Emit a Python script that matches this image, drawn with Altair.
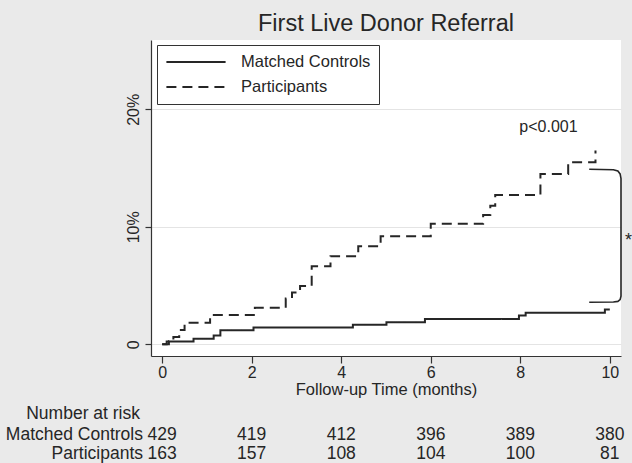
import altair as alt
import pandas as pd

FONT = "Liberation Sans"
INK = "#262626"

# Cumulative incidence (%) of a first live donor referral, step points by month
mc_time = [0, 0.1, 0.7, 1.15, 1.3, 2.04, 4.26, 5.01, 5.87, 7.97, 8.12, 9.89, 10.0]
mc_pct = [0, 0.23, 0.47, 0.75, 1.2, 1.42, 1.65, 1.87, 2.16, 2.44, 2.68, 2.95, 2.95]

pa_time = [0, 0.15, 0.25, 0.38, 0.5, 1.07, 2.07, 2.76, 2.9, 3.08, 3.34, 3.76,
           4.38, 4.88, 6.0, 7.17, 7.33, 7.44, 8.45, 9.07, 9.68]
pa_pct = [0, 0.25, 0.62, 1.22, 1.84, 2.5, 3.1, 3.9, 4.4, 4.95, 6.65, 7.5,
          8.35, 9.2, 10.25, 11.0, 11.8, 12.7, 14.5, 15.5, 16.5]

groups = ["Matched Controls", "Participants"]

# Number at risk
risk_months = [0, 2, 4, 6, 8, 10]
risk_controls = [429, 419, 412, 396, 389, 380]
risk_participants = [163, 157, 108, 104, 100, 81]

# Bracket joining the two curve ends
bracket_time = [9.54, 10.08, 10.18, 10.23, 10.25, 10.25, 10.23, 10.18, 10.08, 9.54]
bracket_pct = [14.9, 14.85, 14.75, 14.5, 14.1, 4.1, 3.8, 3.65, 3.6, 3.58]

curves = pd.concat([
    pd.DataFrame({"time": mc_time, "pct": mc_pct, "group": groups[0]}),
    pd.DataFrame({"time": pa_time, "pct": pa_pct, "group": groups[1]}),
], ignore_index=True)

bracket = pd.DataFrame({"time": bracket_time, "pct": bracket_pct,
                        "order": list(range(len(bracket_time)))})

risk = pd.DataFrame({"time": risk_months,
                     "controls": risk_controls,
                     "participants": risk_participants})

x_scale = alt.Scale(domain=[-0.25, 10.25], nice=False, zero=False)
y_scale = alt.Scale(domain=[-1.0, 25.9], nice=False, zero=False)

x_axis = alt.Axis(
    values=[0, 2, 4, 6, 8, 10], title="Follow-up Time (months)", grid=False,
    tickSize=7, labelPadding=1.5, labelFontSize=16, titleFontSize=16.5,
    titleFontWeight="normal", titleBaseline="alphabetic", titleY=38.5,
)
y_axis = alt.Axis(
    values=[0, 10, 20], title=None, grid=True, gridColor="#E4E4E4",
    labelExpr="datum.value == 0 ? '0' : datum.value + '%'",
    labelAngle=270, labelAlign="center", labelBaseline="alphabetic",
    tickSize=6, labelPadding=7, labelFontSize=16,
)

# Legend key: a flat stroke drawn as a custom symbol path
key_path = "M-3.7,0H3.7"

lines = alt.Chart(curves).mark_line(
    interpolate="step-after", strokeWidth=2, color=INK
).encode(
    x=alt.X("time:Q", scale=x_scale, axis=x_axis),
    y=alt.Y("pct:Q", scale=y_scale, axis=y_axis),
    strokeDash=alt.StrokeDash(
        "group:N",
        scale=alt.Scale(domain=groups, range=[[1, 0], [10, 6]]),
        legend=alt.Legend(
            title=None, orient="none", legendX=6, legendY=5,
            direction="vertical", symbolType=key_path, symbolSize=256,
            symbolStrokeWidth=2, symbolStrokeColor=INK,
            symbolFillColor="transparent", symbolOffset=22,
            labelFontSize=16.5, labelFont=FONT, labelColor=INK,
            labelOffset=36, rowPadding=7, padding=8,
            strokeColor="#333333", fillColor="white",
        ),
    ),
    detail="group:N",
)

bracket_line = alt.Chart(bracket).mark_line(strokeWidth=1.6, color=INK).encode(
    x=alt.X("time:Q", scale=x_scale),
    y=alt.Y("pct:Q", scale=y_scale),
    order="order:Q",
)

pval = alt.Chart(pd.DataFrame({"time": [8.63], "pct": [18.1], "t": ["p<0.001"]})).mark_text(
    fontSize=16, font=FONT, color=INK, align="center", baseline="alphabetic"
).encode(x=alt.X("time:Q", scale=x_scale), y=alt.Y("pct:Q", scale=y_scale), text="t:N")

star = alt.Chart(pd.DataFrame({"time": [10.34], "pct": [8.4], "t": ["*"]})).mark_text(
    fontSize=18, font=FONT, color=INK, align="left", baseline="alphabetic"
).encode(x=alt.X("time:Q", scale=x_scale), y=alt.Y("pct:Q", scale=y_scale), text="t:N")

# Number-at-risk table below the axis
row_text = dict(fontSize=17.5, font=FONT, color=INK, baseline="alphabetic")
header = alt.Chart(pd.DataFrame({"t": ["Number at risk"]})).mark_text(
    align="right", **row_text
).encode(x=alt.value(-11), y=alt.value(379), text="t:N")
label_mc = alt.Chart(pd.DataFrame({"t": ["Matched Controls"]})).mark_text(
    align="right", **row_text
).encode(x=alt.value(-8), y=alt.value(400), text="t:N")
label_pa = alt.Chart(pd.DataFrame({"t": ["Participants"]})).mark_text(
    align="right", **row_text
).encode(x=alt.value(-8), y=alt.value(419), text="t:N")
nums_mc = alt.Chart(risk).mark_text(align="center", **row_text).encode(
    x=alt.X("time:Q", scale=x_scale), y=alt.value(400), text="controls:Q"
)
nums_pa = alt.Chart(risk).mark_text(align="center", **row_text).encode(
    x=alt.X("time:Q", scale=x_scale), y=alt.value(419), text="participants:Q"
)

chart = alt.layer(
    lines, bracket_line, pval, star, header, label_mc, label_pa, nums_mc, nums_pa
).properties(
    width=470, height=316,
    autosize=alt.AutoSizeParams(type="none"),
    padding={"left": 151, "top": 40, "right": 11, "bottom": 107},
    background="#EAEAEA",
    title=alt.TitleParams(
        "First Live Donor Referral", fontSize=23.5, font=FONT, fontWeight="normal",
        color=INK, anchor="middle", frame="group", baseline="alphabetic",
        offset=8, dy=22,
    ),
).configure_view(
    fill="white", strokeWidth=0
).configure_axis(
    domainColor="#333333", tickColor="#333333", domainWidth=1.2, tickWidth=1.2,
    labelColor=INK, titleColor=INK, labelFont=FONT, titleFont=FONT,
)

chart.save("out.html", embed_options={"renderer": "svg", "actions": False})
